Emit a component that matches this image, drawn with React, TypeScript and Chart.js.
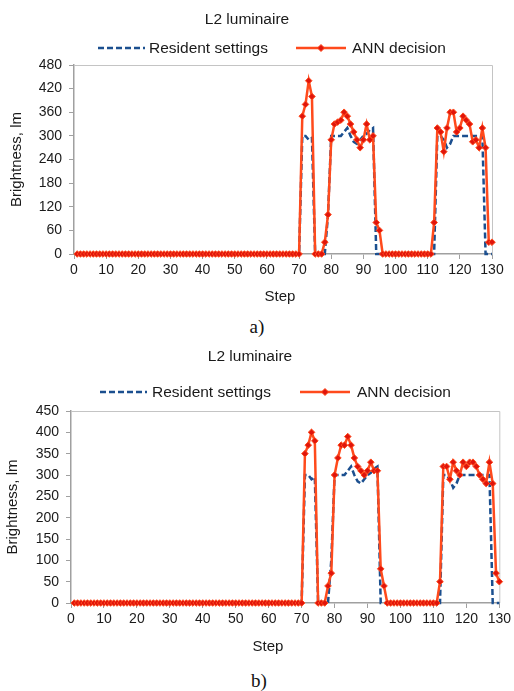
import React, { useEffect, useRef } from "react";
import { Chart, registerables } from "chart.js";

Chart.register(...registerables);

// ---------- data ----------
const steps = [
  1, 2, 3, 4, 5, 6, 7, 8, 9, 10,
  11, 12, 13, 14, 15, 16, 17, 18, 19, 20,
  21, 22, 23, 24, 25, 26, 27, 28, 29, 30,
  31, 32, 33, 34, 35, 36, 37, 38, 39, 40,
  41, 42, 43, 44, 45, 46, 47, 48, 49, 50,
  51, 52, 53, 54, 55, 56, 57, 58, 59, 60,
  61, 62, 63, 64, 65, 66, 67, 68, 69, 70,
  71, 72, 73, 74, 75, 76, 77, 78, 79, 80,
  81, 82, 83, 84, 85, 86, 87, 88, 89, 90,
  91, 92, 93, 94, 95, 96, 97, 98, 99, 100,
  101, 102, 103, 104, 105, 106, 107, 108, 109, 110,
  111, 112, 113, 114, 115, 116, 117, 118, 119, 120,
  121, 122, 123, 124, 125, 126, 127, 128, 129, 130,
];

const residentSettings = [
  0, 0, 0, 0, 0, 0, 0, 0, 0, 0,
  0, 0, 0, 0, 0, 0, 0, 0, 0, 0,
  0, 0, 0, 0, 0, 0, 0, 0, 0, 0,
  0, 0, 0, 0, 0, 0, 0, 0, 0, 0,
  0, 0, 0, 0, 0, 0, 0, 0, 0, 0,
  0, 0, 0, 0, 0, 0, 0, 0, 0, 0,
  0, 0, 0, 0, 0, 0, 0, 0, 0, 0,
  300, 300, 290, 295, 0, 0, 0, 0, 100, 300,
  300, 300, 300, 310, 320, 300, 285, 280, 290, 300,
  305, 315, 320, 0, 0, 0, 0, 0, 0, 0,
  0, 0, 0, 0, 0, 0, 0, 0, 0, 0,
  0, 0, 300, 300, 290, 270, 280, 300, 300, 300,
  300, 300, 300, 300, 300, 300, 300, 0, 0, 0,
];

const annDecisionA = [
  0, 0, 0, 0, 0, 0, 0, 0, 0, 0,
  0, 0, 0, 0, 0, 0, 0, 0, 0, 0,
  0, 0, 0, 0, 0, 0, 0, 0, 0, 0,
  0, 0, 0, 0, 0, 0, 0, 0, 0, 0,
  0, 0, 0, 0, 0, 0, 0, 0, 0, 0,
  0, 0, 0, 0, 0, 0, 0, 0, 0, 0,
  0, 0, 0, 0, 0, 0, 0, 0, 0, 0,
  350, 380, 440, 400, 0, 0, 0, 30, 100, 290,
  330, 335, 340, 360, 350, 330, 310, 290, 270, 290,
  330, 290, 300, 80, 60, 0, 0, 0, 0, 0,
  0, 0, 0, 0, 0, 0, 0, 0, 0, 0,
  0, 80, 320, 310, 260, 320, 360, 360, 310, 320,
  350, 340, 330, 285, 290, 270, 320, 270, 30, 30,
];

const annDecisionB = [
  0, 0, 0, 0, 0, 0, 0, 0, 0, 0,
  0, 0, 0, 0, 0, 0, 0, 0, 0, 0,
  0, 0, 0, 0, 0, 0, 0, 0, 0, 0,
  0, 0, 0, 0, 0, 0, 0, 0, 0, 0,
  0, 0, 0, 0, 0, 0, 0, 0, 0, 0,
  0, 0, 0, 0, 0, 0, 0, 0, 0, 0,
  0, 0, 0, 0, 0, 0, 0, 0, 0, 0,
  350, 370, 400, 380, 0, 0, 0, 40, 70, 300,
  340, 370, 370, 390, 370, 340, 320, 310, 300, 310,
  330, 310, 310, 80, 40, 0, 0, 0, 0, 0,
  0, 0, 0, 0, 0, 0, 0, 0, 0, 0,
  0, 50, 320, 320, 290, 330, 310, 300, 330, 320,
  330, 330, 320, 300, 290, 280, 330, 280, 70, 50,
];

const xMin = 0;
const xMax = 130;
const xStep = 10;
const yMaxA = 480;
const yStepA = 60;
const yMaxB = 450;
const yStepB = 50;

const chartTitle = "L2 luminaire";
const xTitle = "Step";
const yTitle = "Brightness, lm";
const residentLabel = "Resident settings";
const annLabel = "ANN decision";
const captionA = "a)";
const captionB = "b)";

// ---------- styles ----------
const FONT = '"Liberation Sans", Arial, sans-serif';
const TEXT = "#1a1a1a";
const AXIS = "#a0a0a0";
const FRAME = "#c4c4c4";
const BLUE = "#1b4f8f";
const ORANGE = "#ff4a1c";
const MARKER = "#e0150c";

type Geo = {
  width: number;
  height: number;
  left: number;
  right: number;
  top: number;
  bottom: number;
  titleX: number;
  titleY: number;
  legendY: number;
  resLine: [number, number];
  resText: number;
  annLine: [number, number];
  annText: number;
  yTitlePad: number;
  xTitleX: number;
  xTitleY: number;
};

function drawDiamond(ctx: CanvasRenderingContext2D, x: number, y: number, r: number) {
  ctx.beginPath();
  ctx.moveTo(x, y - r);
  ctx.lineTo(x + r, y);
  ctx.lineTo(x, y + r);
  ctx.lineTo(x - r, y);
  ctx.closePath();
  ctx.fillStyle = MARKER;
  ctx.fill();
  ctx.lineWidth = 1;
  ctx.strokeStyle = ORANGE;
  ctx.stroke();
}

function makeDecor(g: Geo) {
  return {
    id: "decor",
    beforeDatasetsDraw(chart: any) {
      const { ctx, chartArea } = chart;
      ctx.save();
      ctx.strokeStyle = FRAME;
      ctx.lineWidth = 1;
      ctx.beginPath();
      ctx.moveTo(chartArea.left, chartArea.top + 0.5);
      ctx.lineTo(chartArea.right + 0.5, chartArea.top + 0.5);
      ctx.lineTo(chartArea.right + 0.5, chartArea.bottom);
      ctx.stroke();
      ctx.restore();
    },
    afterDraw(chart: any) {
      const { ctx } = chart;
      ctx.save();
      ctx.fillStyle = TEXT;
      ctx.textBaseline = "middle";
      ctx.textAlign = "center";
      ctx.font = `15.5px ${FONT}`;
      ctx.fillText(chartTitle, g.titleX, g.titleY);

      ctx.font = `15px ${FONT}`;
      ctx.fillText(xTitle, g.xTitleX, g.xTitleY);

      // legend: resident
      ctx.strokeStyle = BLUE;
      ctx.lineWidth = 2.5;
      ctx.setLineDash([6, 3]);
      ctx.beginPath();
      ctx.moveTo(g.resLine[0], g.legendY);
      ctx.lineTo(g.resLine[1], g.legendY);
      ctx.stroke();
      ctx.setLineDash([]);
      // legend: ann
      ctx.strokeStyle = ORANGE;
      ctx.beginPath();
      ctx.moveTo(g.annLine[0], g.legendY);
      ctx.lineTo(g.annLine[1], g.legendY);
      ctx.stroke();
      drawDiamond(ctx, (g.annLine[0] + g.annLine[1]) / 2, g.legendY, 3.5);

      ctx.fillStyle = TEXT;
      ctx.textAlign = "left";
      ctx.font = `15.5px ${FONT}`;
      ctx.fillText(residentLabel, g.resText, g.legendY + 1);
      ctx.fillText(annLabel, g.annText, g.legendY + 1);
      ctx.restore();
    },
  };
}

function ChartPanel({ ann, yMax, yStep, g, top }: { ann: number[]; yMax: number; yStep: number; g: Geo; top: number }) {
  const ref = useRef<HTMLCanvasElement | null>(null);
  useEffect(() => {
    if (!ref.current) return;
    const toPts = (vals: number[]) => steps.map((s, i) => ({ x: s, y: vals[i] }));
    const tickFont = { family: FONT, size: 14 };
    const chart = new Chart(ref.current, {
      type: "line",
      data: {
        datasets: [
          {
            label: annLabel,
            data: toPts(ann),
            borderColor: ORANGE,
            borderWidth: 2.5,
            pointStyle: "rectRot",
            pointRadius: 3.3,
            pointBackgroundColor: MARKER,
            pointBorderColor: ORANGE,
            pointBorderWidth: 1,
            tension: 0,
            clip: false,
            order: 0,
          } as any,
          {
            label: residentLabel,
            data: toPts(residentSettings),
            borderColor: BLUE,
            borderWidth: 2.5,
            borderDash: [6, 3],
            pointRadius: 0,
            tension: 0,
            clip: false,
            order: 1,
          } as any,
        ],
      },
      options: {
        responsive: false,
        animation: false,
        events: [],
        layout: { padding: { left: 0, right: g.width - g.right, top: g.top, bottom: 0 } },
        plugins: { legend: { display: false }, title: { display: false }, tooltip: { enabled: false } },
        scales: {
          x: {
            type: "linear",
            min: xMin,
            max: xMax,
            ticks: { stepSize: xStep, font: tickFont, color: TEXT, padding: 3, maxRotation: 0, autoSkip: false },
            grid: { drawOnChartArea: false, drawTicks: true, tickLength: 5, color: AXIS, lineWidth: 1 },
            border: { color: AXIS, width: 1.5 },
            title: { display: false },
            afterFit: (s: any) => {
              s.height = g.height - g.bottom;
            },
          },
          y: {
            type: "linear",
            min: 0,
            max: yMax,
            ticks: { stepSize: yStep, font: tickFont, color: TEXT, padding: 7 },
            grid: { drawOnChartArea: false, drawTicks: true, tickLength: 5, color: AXIS, lineWidth: 1 },
            border: { color: AXIS, width: 1.5 },
            title: { display: true, text: yTitle, color: TEXT, font: { family: FONT, size: 15 }, padding: { top: g.yTitlePad, bottom: 0 } },
            afterFit: (s: any) => {
              s.width = g.left;
            },
          },
        },
      } as any,
      plugins: [makeDecor(g)],
    });
    return () => chart.destroy();
  }, []);
  return (
    <canvas
      ref={ref}
      width={g.width}
      height={g.height}
      style={{ position: "absolute", left: 0, top, width: g.width, height: g.height }}
    />
  );
}

const geoA: Geo = {
  width: 514,
  height: 315,
  left: 74,
  right: 492,
  top: 65,
  bottom: 254,
  titleX: 247,
  titleY: 20,
  legendY: 48,
  resLine: [98, 145],
  resText: 149,
  annLine: [296, 346],
  annText: 352,
  yTitlePad: 8,
  xTitleX: 280,
  xTitleY: 297,
};

const geoB: Geo = {
  width: 514,
  height: 320,
  left: 71,
  right: 502,
  top: 71,
  bottom: 263,
  titleX: 250,
  titleY: 17,
  legendY: 52,
  resLine: [100, 147],
  resText: 152,
  annLine: [300, 350],
  annText: 357,
  yTitlePad: 3.5,
  xTitleX: 268,
  xTitleY: 307,
};

const captionStyle: React.CSSProperties = {
  position: "absolute",
  width: 40,
  textAlign: "center",
  fontFamily: '"Liberation Serif", "Times New Roman", serif',
  fontSize: 19,
  lineHeight: "20px",
  color: "#111",
};

export default function App() {
  return (
    <div style={{ position: "absolute", left: 0, top: 0, width: 514, height: 691, background: "#fff" }}>
      <ChartPanel ann={annDecisionA} yMax={yMaxA} yStep={yStepA} g={geoA} top={0} />
      <div style={{ ...captionStyle, left: 257 - 20, top: 317 }}>{captionA}</div>
      <ChartPanel ann={annDecisionB} yMax={yMaxB} yStep={yStepB} g={geoB} top={340} />
      <div style={{ ...captionStyle, left: 259 - 20, top: 671 }}>{captionB}</div>
    </div>
  );
}
